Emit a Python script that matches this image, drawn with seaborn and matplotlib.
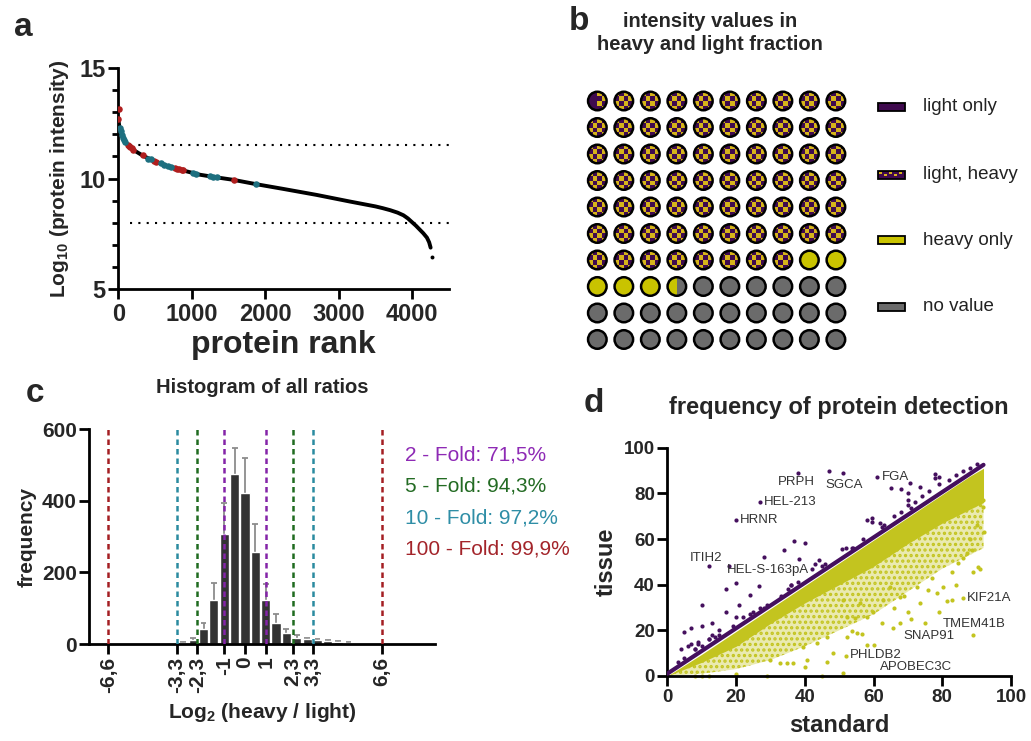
import numpy as np
import matplotlib
matplotlib.use('Agg')
import matplotlib.pyplot as plt
import matplotlib.patches as mpatches
import pandas as pd
import seaborn as sns

# =========================
# DATA
# =========================
# a: ranked protein intensities
rank = [0, 5, 12, 25, 45, 90, 136, 204, 340, 476, 658, 884, 1111, 1338, 1565,
        1882, 2245, 2698, 3152, 3500, 3600, 3700, 3800, 3880, 3940, 3990, 4050,
        4100, 4150, 4200, 4230, 4250]
log_int = [12.7, 12.55, 12.4, 12.2, 11.97, 11.67, 11.49, 11.29, 11.02, 10.81, 10.57,
           10.36, 10.17, 10.05, 9.94, 9.74, 9.53, 9.26, 8.96, 8.74, 8.66, 8.57, 8.46,
           8.34, 8.2, 8.05, 7.87, 7.7, 7.53, 7.33, 7.12, 6.88]
last_rank = [4268]
last_int = [6.48]
red_rank = [5, 1, 135, 150, 165, 185, 205, 330, 480, 510, 770, 800, 830, 860, 880, 1570]
red_int = [13.14, 12.68, 11.5, 11.46, 11.42, 11.37, 11.3, 11.05, 10.8, 10.76, 10.46,
           10.43, 10.41, 10.39, 10.37, 9.93]
teal_rank = [20, 30, 45, 60, 80, 95, 410, 440, 580, 620, 680, 720, 1020, 1060, 1250,
             1290, 1340, 1880]
teal_int = [12.3, 12.15, 11.98, 11.85, 11.72, 11.66, 10.9, 10.86, 10.7, 10.63, 10.58,
            10.53, 10.25, 10.22, 10.1, 10.08, 10.05, 9.74]
cut_hi = 11.5
cut_lo = 8.0

# b: waffle of 100 cells
frac_labels = ['light only', 'light, heavy', 'heavy only', 'no value']
frac_counts = [0.5, 67.5, 5.5, 26.5]

# c: histogram of log2 ratios
bin_centers = [-7.5, -7.0, -6.5, -6.0, -5.5, -5.0, -4.5, -4.0, -3.5, -3.0, -2.5, -2.0,
               -1.5, -1.0, -0.5, 0.0, 0.5, 1.0, 1.5, 2.0, 2.5, 3.0, 3.5, 4.0, 4.5, 5.0,
               5.5, 6.0, 6.5, 7.0, 7.5, 8.0, 8.5, 9.0]
bin_freq = [1, 1, 1, 1, 1, 1, 1, 1, 2, 4, 10, 42, 123, 307, 474, 421, 256, 123, 60,
            30, 17, 14, 11, 8, 6, 3, 2, 1, 1, 1, 1, 1, 1, 1]
bin_err = [0, 0, 0, 0, 0, 0, 0, 0, 0, 2, 7, 17, 47, 88, 74, 100, 78, 45, 23, 13, 7, 4,
           3, 3, 2, 2, 0, 0, 0, 0, 0, 0, 0, 0]
fold_cut = [1, 2.3, 3.3, 6.6]
fold_text = ['2 - Fold: 71,5%', '5 - Fold: 94,3%', '10 - Fold: 97,2%', '100 - Fold: 99,9%']
c_ticks = [-6.6, -3.3, -2.3, -1, 0, 1, 2.3, 3.3, 6.6]
c_ticklabels = ['-6,6', '-3,3', '-2,3', '-1', '0', '1', '2,3', '3,3', '6,6']

# d: detection frequency, standard vs tissue
band_x = [0, 10, 20, 30, 40, 50, 60, 70, 80, 88, 92]
band_top = [0, 9.5, 19.5, 29.5, 39.5, 49.5, 59.5, 69.5, 79.5, 87.5, 91]
band_core = [0, 6, 13, 23, 32, 40, 48, 58, 67, 73, 76]
band_mid = [0, 1, 3, 7, 13, 20, 27, 37, 47, 53, 56]
diag_x = [0, 92]
diag_y = [1, 92.5]
purple_x = [38, 47, 51, 61, 65, 68, 70.5, 73.5, 70, 78, 78, 79, 59.7, 59.7, 58, 70, 71,
            62.4, 50.7, 53.7, 27, 20, 37, 40, 34, 28, 38.4, 12, 18, 20, 26.7, 17, 24,
            10, 21, 17, 20, 5, 7, 10, 13, 36, 4, 7, 8, 9, 10, 12, 13, 14, 15, 3, 6,
            5, 8, 9, 12, 15, 19, 22, 24, 25, 27, 28, 29, 33, 35, 36, 38, 42, 43, 44,
            45, 46, 52, 54, 57, 62, 63, 66, 68, 70, 72, 74, 76, 79, 82, 84, 86, 88, 90]
purple_y = [89, 90, 89, 87, 82.5, 81.8, 84.4, 82.9, 80, 88.3, 86.6, 87.3, 69, 67.5,
            68.3, 77, 73.5, 65.4, 55.6, 55.9, 76.4, 68.3, 59.3, 58.1, 55.2, 52.1, 51.1,
            48.2, 48.2, 40.9, 39.6, 38.1, 35.3, 31.2, 31.1, 27.9, 25.8, 19.3, 21.2, 22,
            23.1, 39.7, 12, 14, 12, 15, 13, 16, 18, 17, 20, 6, 13, 8, 12, 14, 16, 18,
            22, 26, 27, 28, 30, 30, 31, 35, 38, 40, 41, 47, 49, 51, 48, 49, 56, 56, 60,
            67, 66, 70, 72, 75, 76, 79, 81, 84, 86, 88, 90, 91, 93]
yellow_x = [86.1, 89, 75, 67.7, 65.8, 52, 52.2, 53.7, 55.1, 56.6, 58.1, 60.1, 81.3, 82.7,
            90.5, 91, 89, 91.9, 91.9, 92, 87.1, 88.6, 79.1, 78.4, 75.9, 72.6, 73.5, 80.3,
            82.7, 84.7, 86.1, 62.4, 59.9, 58, 54.6, 52.2, 51.2, 56.1, 62.8, 67.7, 64.8,
            46.4, 29.9, 32.8, 34.8, 36.7, 40.6, 48.3, 46.4, 43.5, 39.6, 40, 28.9, 44.9,
            51, 8, 10, 12, 20, 66, 70, 71, 69, 77, 84, 88, 90]
yellow_y = [34, 18, 23.1, 23.4, 20.9, 8.9, 17.2, 19.7, 18.7, 18.4, 13.6, 13.6, 33, 33.3,
            47.9, 46.7, 45.7, 77.1, 74.2, 63, 53.7, 55.2, 28.2, 36.2, 37.7, 39.1, 31.8,
            39.1, 45.7, 49.4, 51.6, 23.1, 28.2, 26, 25.3, 26, 33.3, 31.8, 33.3, 34.7,
            39.1, 6.3, 7, 5.6, 5.6, 5.6, 7, 9.9, 17.2, 14.3, 12.8, 4.1, 0, 0, 1.2, 0, 0,
            0, 1, 30, 28, 25, 35, 43, 40, 60, 66]
gene_labels = ['PRPH', 'SGCA', 'FGA', 'HEL-213', 'HRNR', 'ITIH2', 'HEL-S-163pA',
               'KIF21A', 'TMEM41B', 'SNAP91', 'PHLDB2', 'APOBEC3C']
gene_x = [37.6, 51.4, 66.3, 35.7, 26.8, 11.4, 29.4, 93.7, 89.4, 76.0, 60.7, 72.3]
gene_y = [85.1, 83.6, 87.3, 76.2, 68.2, 51.8, 46.4, 34.0, 22.9, 17.5, 9.0, 3.8]

# =========================
# STYLE
# =========================
sns.set_theme(style='ticks')
plt.rcParams['font.family'] = ['Liberation Sans', 'DejaVu Sans']
plt.rcParams['mathtext.fontset'] = 'custom'
plt.rcParams['mathtext.rm'] = 'Liberation Sans:bold'
plt.rcParams['mathtext.default'] = 'rm'
plt.rcParams['hatch.linewidth'] = 1.6

PURPLE = '#3f0a4e'
CHECK_Y = '#d6b41a'
HEAVY_Y = '#c9c300'
GREY = '#6b6b6b'
D_PURPLE = '#45105e'
D_YELLOW = '#c3c41f'
fold_colors = ['#8424a8', '#1f6b1f', '#2a8ba0', '#a41e22']
text_colors = ['#8e2ab5', '#236b23', '#2f8ea6', '#a3242a']

W, H = 1031, 741
fig = plt.figure(figsize=(W / 100, H / 100), dpi=100)


def px_axes(left, right, top, bottom):
    return fig.add_axes([left / W, 1 - bottom / H, (right - left) / W, (bottom - top) / H])


def style_axes(ax, lw=2.0):
    sns.despine(ax=ax)
    for s in ['left', 'bottom']:
        ax.spines[s].set_linewidth(lw)
        ax.spines[s].set_color('black')
    ax.tick_params(direction='out', width=lw, length=7, color='black', pad=2)


# =========================
# PANEL A
# =========================
ax_a = px_axes(118.3, 449, 67.7, 289.3)
df_a = pd.DataFrame({'rank': rank, 'log_int': log_int})
sns.lineplot(data=df_a, x='rank', y='log_int', color='black', lw=2.8, ax=ax_a,
             solid_capstyle='round')
sns.scatterplot(x=last_rank, y=last_int, color='black', s=8, ax=ax_a, linewidth=0)
sns.scatterplot(x=red_rank, y=red_int, color='#b01e1e', s=22, ax=ax_a, linewidth=0, zorder=4)
sns.scatterplot(x=teal_rank, y=teal_int, color='#1d6f7f', s=22, ax=ax_a, linewidth=0, zorder=4)
ax_a.plot([160, 4500], [cut_hi, cut_hi], ls=(0, (1, 3)), color='black', lw=1.5)
ax_a.plot([160, 4500], [cut_lo, cut_lo], ls=(0, (1, 3)), color='black', lw=1.5)
ax_a.set_xlim(0, 4500)
ax_a.set_ylim(5, 15)
ax_a.set_xticks([0, 1000, 2000, 3000, 4000])
ax_a.set_yticks([5, 10, 15])
ax_a.set_yticks(range(5, 16), minor=True)
style_axes(ax_a)
ax_a.tick_params(which='minor', direction='out', width=2, length=4, color='black')
ax_a.tick_params(axis='x', pad=3)
ax_a.set_xticklabels(['0', '1000', '2000', '3000', '4000'], fontsize=17, fontweight='bold')
ax_a.set_yticklabels(['5', '10', '15'], fontsize=17, fontweight='bold')
ax_a.set_xlabel('protein rank', fontsize=23, fontweight='bold', labelpad=3)
ax_a.set_ylabel(r'Log$_{10}$ (protein intensity)', fontsize=15, fontweight='bold', labelpad=6)

# =========================
# PANEL B (waffle)
# =========================
ax_b = px_axes(575, 1031, 85, 360)
ax_b.set_xlim(-0.842, 16.36)
ax_b.set_ylim(9.774, -0.604)
ax_b.axis('off')
r = 0.35
cum = np.cumsum([0] + frac_counts)
solid = {0: PURPLE, 2: HEAVY_Y, 3: GREY}
n_chk = 4
for k in range(100):
    row, col = divmod(k, 10)
    clip = mpatches.Circle((col, row), r, transform=ax_b.transData)
    for ci in range(4):
        lo = max(cum[ci], k)
        hi = min(cum[ci + 1], k + 1)
        if hi <= lo:
            continue
        x0 = col - r + (lo - k) * 2 * r
        x1 = col - r + (hi - k) * 2 * r
        if ci == 1:
            base = mpatches.Rectangle((x0, row - r), x1 - x0, 2 * r, color=PURPLE, lw=0)
            ax_b.add_patch(base)
            base.set_clip_path(clip)
            s = 2 * r / n_chk
            for a in range(n_chk):
                for b in range(n_chk):
                    if (a + b) % 2 == 1:
                        continue
                    sx0 = max(col - r + a * s, x0)
                    sx1 = min(col - r + (a + 1) * s, x1)
                    if sx1 <= sx0:
                        continue
                    sq = mpatches.Rectangle((sx0, row - r + b * s), sx1 - sx0, s,
                                            color=CHECK_Y, lw=0)
                    ax_b.add_patch(sq)
                    sq.set_clip_path(clip)
        else:
            p = mpatches.Rectangle((x0, row - r), x1 - x0, 2 * r, color=solid[ci], lw=0)
            ax_b.add_patch(p)
            p.set_clip_path(clip)
    ax_b.add_patch(mpatches.Circle((col, row), r, facecolor='none', edgecolor='black',
                                   lw=1.8, zorder=3))

leg_y = [0.215, 2.79, 5.25, 7.76]
for i, lab in enumerate(frac_labels):
    y = leg_y[i]
    fc = {0: PURPLE, 1: PURPLE, 2: HEAVY_Y, 3: GREY}[i]
    ax_b.add_patch(mpatches.Rectangle((10.59, y - 0.15), 1.02, 0.30, facecolor=fc,
                                      edgecolor='black', lw=1.3, zorder=3))
    if i == 1:
        for j in range(5):
            ax_b.add_patch(mpatches.Rectangle((10.62 + j * 0.19, y - 0.1 + (j % 2) * 0.08),
                                              0.11, 0.07, color=CHECK_Y, lw=0, zorder=4))
    ax_b.text(12.29, y, lab, fontsize=13.5, va='center', ha='left', color='#222222')

fig.text(710 / W, 1 - 33 / H, 'intensity values in\nheavy and light fraction', ha='center',
         va='center', fontsize=14.5, fontweight='bold', linespacing=1.25)

# =========================
# PANEL C
# =========================
ax_c = px_axes(89.3, 435, 429.3, 644)
sns.barplot(x=bin_centers, y=bin_freq, native_scale=True, orient='x', color='#333333',
            saturation=1, width=0.88, ax=ax_c, zorder=2)
for xc, fq, er in zip(bin_centers, bin_freq, bin_err):
    if er > 0:
        ax_c.vlines(xc, fq, fq + er, color='#8c8c8c', lw=1.3, zorder=1)
        ax_c.hlines(fq + er, xc - 0.14, xc + 0.14, color='#8c8c8c', lw=1.3, zorder=1)
for fc, col in zip(fold_cut, fold_colors):
    ax_c.vlines([-fc, fc], 0, 600, colors=col, linestyles=(0, (2.2, 1.6)), lw=1.8, zorder=3)
ax_c.set_xlim(-7.52, 9.18)
ax_c.set_ylim(0, 600)
ax_c.set_yticks([0, 200, 400, 600])
style_axes(ax_c)
ax_c.set_xticks(c_ticks)
ax_c.set_xticklabels(c_ticklabels, rotation=90, fontsize=15, fontweight='bold')
ax_c.set_yticklabels(['0', '200', '400', '600'], fontsize=15, fontweight='bold')
ax_c.set_xlabel(r'Log$_2$ (heavy / light)', fontsize=15, fontweight='bold', labelpad=6)
ax_c.set_ylabel('frequency', fontsize=15, fontweight='bold', labelpad=4)
ax_c.set_title('Histogram of all ratios', fontsize=14.5, fontweight='bold', pad=26)
for i, (t, col) in enumerate(zip(fold_text, text_colors)):
    fig.text(405 / W, 1 - (455 + 31.3 * i) / H, t, color=col, fontsize=15, va='center', ha='left')

# =========================
# PANEL D
# =========================
ax_d = px_axes(667.3, 1011, 447.7, 676)
ax_d.fill_between(band_x, band_mid, band_core, facecolor=(0.765, 0.769, 0.122, 0.35),
                  edgecolor=D_YELLOW, hatch='...', lw=0, zorder=1)
ax_d.fill_between(band_x, band_core, band_top, color=D_YELLOW, lw=0, zorder=1)
sns.scatterplot(x=yellow_x, y=yellow_y, color=D_YELLOW, s=9, linewidth=0, ax=ax_d,
                zorder=2, clip_on=False)
sns.lineplot(x=diag_x, y=diag_y, color=D_PURPLE, lw=3, ax=ax_d, zorder=3)
sns.scatterplot(x=purple_x, y=purple_y, color=D_PURPLE, s=9, linewidth=0, ax=ax_d, zorder=4)
for lab, gx, gy in zip(gene_labels, gene_x, gene_y):
    ax_d.text(gx, gy, lab, fontsize=9.5, ha='center', va='center', color='#333333', zorder=5)
ax_d.set_xlim(0, 100)
ax_d.set_ylim(0, 100)
ax_d.set_xticks(range(0, 101, 20))
ax_d.set_yticks(range(0, 101, 20))
style_axes(ax_d)
ax_d.set_xticklabels([str(v) for v in range(0, 101, 20)], fontsize=13.5, fontweight='bold')
ax_d.set_yticklabels([str(v) for v in range(0, 101, 20)], fontsize=13.5, fontweight='bold')
ax_d.set_xlabel('standard', fontsize=17, fontweight='bold', labelpad=6)
ax_d.set_ylabel('tissue', fontsize=17, fontweight='bold', labelpad=4)
ax_d.set_title('frequency of protein detection', fontsize=17, fontweight='bold', pad=24)

# panel letters
for lab, x, y in [('a', 23, 27), ('b', 579, 22), ('c', 35, 394), ('d', 594, 404)]:
    fig.text(x / W, 1 - y / H, lab, fontsize=24, fontweight='bold', ha='center', va='center')

fig.savefig('out.png', dpi=100)
